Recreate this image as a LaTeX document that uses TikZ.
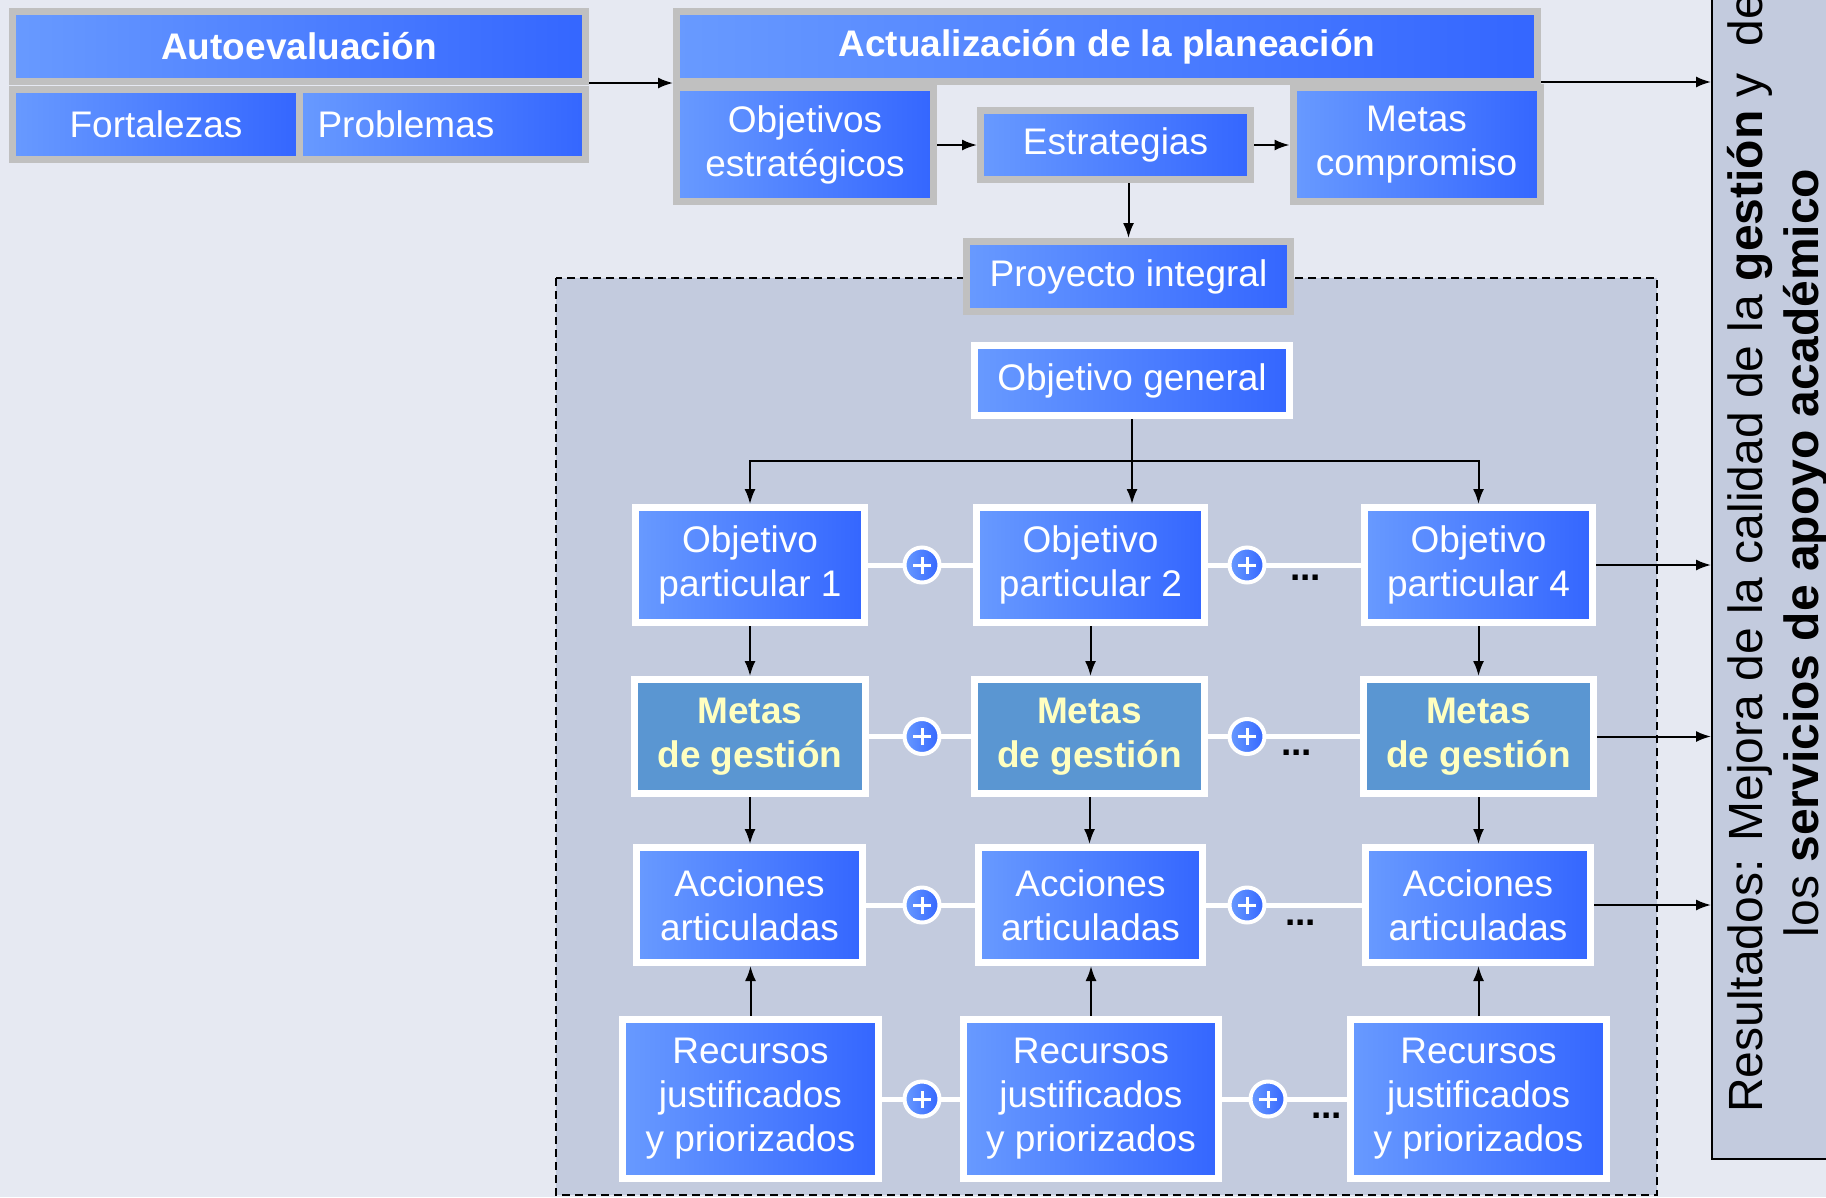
\documentclass[tikz,border=0pt]{standalone}
\usepackage{fontspec}
\setmainfont{Liberation Sans}
\usetikzlibrary{arrows.meta}
\definecolor{bgc}{RGB}{230,233,242}
\definecolor{regc}{RGB}{195,203,222}
\definecolor{lb}{RGB}{104,154,255}
\definecolor{db}{RGB}{52,102,255}
\definecolor{mgfill}{RGB}{90,150,210}
\definecolor{ylw}{RGB}{255,255,192}
\definecolor{bgray}{RGB}{192,192,192}
\begin{document}
\begin{tikzpicture}[x=1pt,y=-1pt,
  bx/.style={rectangle, line width=7pt, left color=lb, right color=db, text=white,
    inner sep=0pt, align=center, font=\fontsize{37}{44}\selectfont},
  gb/.style={bx, draw=bgray},
  wb/.style={bx, draw=white},
  bold/.style={font=\bfseries\fontsize{37}{44}\selectfont},
  mgbox/.style={rectangle, line width=7pt, draw=white, fill=mgfill, text=ylw,
    inner sep=0pt, align=center, font=\bfseries\fontsize{37}{44}\selectfont,
    minimum height=114},
  oprow/.style={wb, minimum height=115},
  acrow/.style={wb, minimum height=115},
  rcrow/.style={wb, minimum height=159},
  arr/.style={-{Latex[length=15pt,width=11pt]}, line width=2pt, black},
  wline/.style={draw=white, line width=5pt},
  pl/.style={circle, draw=white, line width=4pt, left color=lb, right color=db,
    minimum size=35pt, inner sep=0pt,
    path picture={\draw[white, line width=3pt]
      ([xshift=-9pt]path picture bounding box.center) -- ([xshift=9pt]path picture bounding box.center)
      ([yshift=-8.5pt]path picture bounding box.center) -- ([yshift=8.5pt]path picture bounding box.center);}},
  dotsty/.style={font=\bfseries\fontsize{37}{44}\selectfont, inner sep=0pt, anchor=base west, text=black},
  resbox/.style={rectangle, draw=black, line width=2pt, fill=regc, minimum width=138, minimum height=1179, inner sep=0pt}
]
\useasboundingbox (0,0) rectangle (1826,1197);
\fill[bgc] (0,0) rectangle (1826,1197);
% dashed region
\filldraw[fill=regc, draw=black, line width=1.5pt, dash pattern=on 8pt off 5pt] (556,278) rectangle (1657,1195);
% results box
\node[resbox] (res) at (1781,569.5) {};
\node[rotate=90, align=center, inner sep=0pt, font=\fontsize{48}{56}\selectfont] (restext) at (1777.5,553)
  {Resultados: Mejora de la calidad de la \textbf{gestión} y~ de\\los \textbf{servicios de apoyo académico}};

% top part
\node[gb, bold, minimum width=573, minimum height=70] (autot) at (299,46.5) {Autoevaluación};
\node[gb, minimum width=287, minimum height=70] (fort) at (156,124.5) {Fortalezas};
\node[gb, minimum width=286, minimum height=70, text width=250, align=left] (prob) at (442.5,124.5) {Problemas};
\node[gb, bold, minimum width=861, minimum height=70] (act) at (1107,46.5) {Actualización de la planeación};
\node[gb, minimum width=257, minimum height=114] (objest) at (805,144.5) {Objetivos\\estratégicos};
\node[gb, minimum width=270, minimum height=69] (estr) at (1115.5,145) {Estrategias};
\node[gb, minimum width=247, minimum height=114] (metasc) at (1416.5,144.5) {Metas\\compromiso};
\node[gb, minimum width=324, minimum height=70] (proy) at (1128.5,276.5) {Proyecto integral};
\node[wb, minimum width=315, minimum height=70] (og) at (1132,380.5) {Objetivo general};

% objetivos particulares
\node[oprow, minimum width=229] (op1) at (750,565) {Objetivo\\particular 1};
\node[oprow, minimum width=228] (op2) at (1090.5,565) {Objetivo\\particular 2};
\node[oprow, minimum width=228] (op4) at (1478.5,565) {Objetivo\\particular 4};
% metas de gestion
\node[mgbox, minimum width=231] (mg1) at (750,736.5) {Metas\\de gestión};
\node[mgbox, minimum width=230] (mg2) at (1089.5,736.5) {Metas\\de gestión};
\node[mgbox, minimum width=230] (mg4) at (1478.5,736.5) {Metas\\de gestión};
% acciones
\node[acrow, minimum width=226] (ac1) at (749.5,905) {Acciones\\articuladas};
\node[acrow, minimum width=224] (ac2) at (1090.5,905) {Acciones\\articuladas};
\node[acrow, minimum width=225] (ac4) at (1478,905) {Acciones\\articuladas};
% recursos
\node[rcrow, minimum width=256] (rc1) at (750.5,1099) {Recursos\\justificados\\y priorizados};
\node[rcrow, minimum width=255] (rc2) at (1091,1099) {Recursos\\justificados\\y priorizados};
\node[rcrow, minimum width=256] (rc4) at (1478.5,1099) {Recursos\\justificados\\y priorizados};

% white connectors
\foreach \r in {op,mg,ac,rc}{
  \draw[wline] (\r1.east) -- (\r2.west);
  \draw[wline] (\r2.east) -- (\r4.west);
}
% dots
\node[dotsty] (d1) at (1290,580) {...};
\node[dotsty] (d2) at (1281,755) {...};
\node[dotsty] (d3) at (1285,925) {...};
\node[dotsty] (d4) at (1311,1118) {...};
% plus circles
\node[pl] (pa1) at (922,565) {};
\node[pl] (pa2) at (1247,565) {};
\node[pl] (pb1) at (922,736.5) {};
\node[pl] (pb2) at (1247,736.5) {};
\node[pl] (pc1) at (922,905) {};
\node[pl] (pc2) at (1247,905) {};
\node[pl] (pd1) at (922,1099) {};
\node[pl] (pd2) at (1268,1099) {};

% arrows top
\draw[arr] ([yshift=2pt]autot.south east) -- ([yshift=2pt]act.south west);
\draw[arr] ([yshift=3pt]act.south east) -- ([yshift=3pt]act.south east -| res.west);
\draw[arr] (objest.east |- estr.west) -- (estr.west);
\draw[arr] (estr.east) -- (estr.east -| metasc.west);
\draw[arr] (proy.north |- estr.south) -- (proy.north);

% tree
\coordinate (br) at (og.south |- 0,461);
\draw[line width=2pt] (og.south) -- (br);
\draw[arr] (br) -| (op1.north);
\draw[arr] (br) -| (op4.north);
\draw[arr] (br) -- (br |- op2.north);

\foreach \i in {1,2,4}{
  \draw[arr] (op\i.south) -- (op\i.south |- mg\i.north);
  \draw[arr] (mg\i.south) -- (mg\i.south |- ac\i.north);
  \draw[arr] (rc\i.north) -- (rc\i.north |- ac\i.south);
}
% to results
\draw[arr] (op4.east) -- (op4.east -| res.west);
\draw[arr] (mg4.east) -- (mg4.east -| res.west);
\draw[arr] (ac4.east) -- (ac4.east -| res.west);
\end{tikzpicture}
\end{document}
